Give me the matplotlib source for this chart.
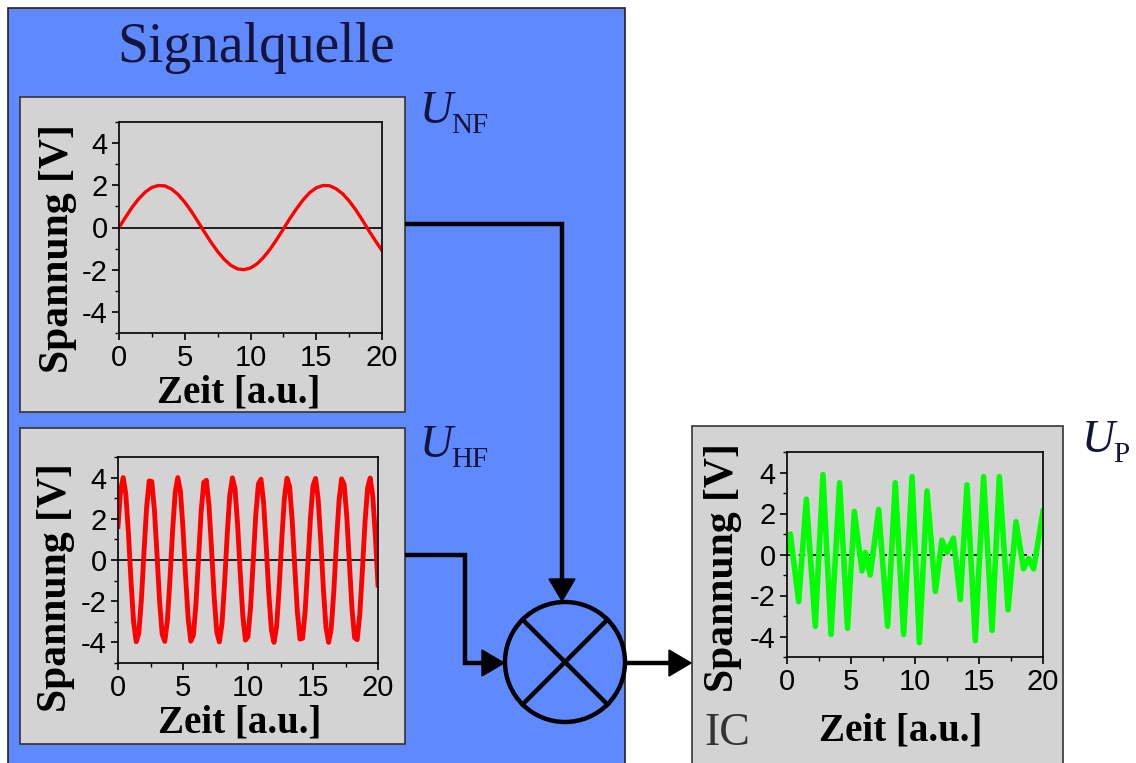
import matplotlib
matplotlib.use("Agg")
import numpy as np
import matplotlib.pyplot as plt
from matplotlib.patches import Rectangle, Circle, Polygon
from matplotlib.ticker import MultipleLocator

plt.rcParams["font.family"] = ["Liberation Sans", "DejaVu Sans"]
plt.rcParams["axes.unicode_minus"] = False

W, H = 1136, 763

# ── data ─────────────────────────────────────────────────────────────────────
# U_NF, sampled every 0.5 a.u.
nf_u = [0.00, 0.49, 0.96, 1.36, 1.68, 1.90, 1.99, 1.97, 1.82, 1.56, 1.20,
        0.77, 0.28, -0.22, -0.70, -1.14, -1.51, -1.79, -1.96, -2.00, -1.92,
        -1.72, -1.41, -1.02, -0.56, -0.07, 0.43, 0.89, 1.31, 1.65, 1.88,
        1.99, 1.98, 1.84, 1.60, 1.26, 0.84, 0.36, -0.15, -0.63, -1.09]

# U_HF, sampled every 0.2 a.u.
hf_u = [1.63, 3.40, 4.00, 3.21, 1.33, -1.02, -3.01, -3.97, -3.56, -1.92,
        0.38, 2.55, 3.84, 3.81, 2.46, 0.27, -2.02, -3.61, -3.95, -2.94,
        -0.91, 1.43, 3.28, 4.00, 3.34, 1.53, -0.81, -2.86, -3.94, -3.65,
        -2.11, 0.16, 2.38, 3.77, 3.87, 2.64, 0.49, -1.82, -3.51, -3.98,
        -3.09, -1.12, 1.22, 3.15, 3.99, 3.46, 1.73, -0.59, -2.71, -3.89,
        -3.73, -2.29, -0.06, 2.20, 3.69, 3.92, 2.80, 0.70, -1.62, -3.40,
        -4.00, -3.23, -1.33, 1.01, 3.01, 3.97, 3.56, 1.92, -0.37, -2.54,
        -3.84, -3.80, -2.47, -0.28, 2.01, 3.60, 3.96, 2.94, 0.92, -1.42,
        -3.28, -4.00, -3.35, -1.54, 0.80, 2.86, 3.94, 3.66, 2.12, -0.16,
        -2.37, -3.77, -3.87, -2.64, -0.49, 1.82, 3.50, 3.98, 3.09, 1.13,
        -1.22]

# U_P, turning points
p_t = [0.00, 0.26, 0.91, 1.51, 2.21, 2.81, 3.44, 4.11, 4.73, 5.26, 5.86,
       6.12, 6.50, 7.16, 7.86, 8.46, 9.11, 9.77, 10.34, 10.94, 11.59,
       12.10, 12.50, 13.00, 13.54, 14.06, 14.71, 15.36, 16.02, 16.59,
       17.27, 17.89, 18.48, 18.88, 19.27, 20.00]
p_u = [0.2, 1.0, -2.3, 2.7, -3.5, 3.9, -3.9, 3.5, -3.6, 2.1, -0.8,
       0.1, -1.0, 2.2, -3.5, 3.5, -3.9, 3.8, -4.3, 3.1, -1.8,
       0.7, 0.1, 0.8, -2.2, 3.4, -4.2, 3.8, -3.7, 3.8,
       -2.7, 1.6, -0.7, -0.2, -0.7, 2.1]

x_ticks = [0, 5, 10, 15, 20]
y_ticks = [-4, -2, 0, 2, 4]

BLUE = "#5f8aff"
GRAY = "#d3d3d3"
NAVY = "#14143c"
SERIF = "Liberation Serif"

fig = plt.figure(figsize=(W / 100, H / 100), dpi=100)

# ── background / block diagram in pixel coordinates ──────────────────────────
bg = fig.add_axes([0, 0, 1, 1])
bg.set_xlim(0, W); bg.set_ylim(H, 0); bg.axis("off")

bg.add_patch(Rectangle((8, 8), 617, 790, fc=BLUE, ec="#222222", lw=1.2))
for x0, y0, x1, y1 in [(20, 97, 405, 412), (20, 428, 405, 744),
                       (692, 426, 1063, 800)]:
    bg.add_patch(Rectangle((x0, y0), x1 - x0, y1 - y0, fc=GRAY,
                           ec="#333333", lw=1.2))

bg.text(256, 48, "Signalquelle", fontsize=40, family=SERIF, color=NAVY,
        ha="center", va="center")

LW = 3.2
def wire(xs, ys):
    bg.plot(xs, ys, color="k", lw=LW, solid_joinstyle="miter",
            solid_capstyle="butt")

def head(x, y, d):
    if d == "down":
        pts = [(x, y), (x - 13, y - 22), (x + 13, y - 22)]
    else:
        pts = [(x, y), (x - 22, y - 13), (x - 22, y + 13)]
    bg.add_patch(Polygon(pts, closed=True, fc="k", ec="k", lw=1))

wire([405, 562, 562], [224, 224, 582]); head(562, 601, "down")
wire([405, 465, 465, 484], [555, 555, 663, 663]); head(504, 663, "right")
wire([625, 672], [663, 663]); head(691, 663, "right")

cx, cy, r = 565, 662, 60
bg.add_patch(Circle((cx, cy), r, fill=False, ec="k", lw=LW))
d = r * 0.7071
bg.plot([cx - d, cx + d], [cy - d, cy + d], color="k", lw=LW)
bg.plot([cx - d, cx + d], [cy + d, cy - d], color="k", lw=LW)

# U labels
def ulabel(x, y, sub):
    bg.text(x, y, "U", fontsize=33, family=SERIF, style="italic",
            color=NAVY, ha="left", va="baseline")
    bg.text(x + 31, y + 10, sub, fontsize=21, family=SERIF, color=NAVY,
            ha="left", va="baseline")

ulabel(420, 123, "NF")
ulabel(420, 457, "HF")
ulabel(1082, 452, "P")
bg.text(704, 745, "IC", fontsize=33, family=SERIF, color="#333333",
        ha="left", va="baseline")


# ── signal panels ────────────────────────────────────────────────────────────
def panel(box, t, u, color, lw, zero_ls, ylab_xy, xlab_xy):
    x0, y0, x1, y1 = box
    ax = fig.add_axes([x0 / W, 1 - y1 / H, (x1 - x0) / W, (y1 - y0) / H])
    ax.set_facecolor(GRAY)
    ax.axhline(0, color="k", lw=1.2, ls=zero_ls, zorder=1)
    ax.plot(t, u, color=color, lw=lw, zorder=2)
    ax.set_xlim(0, 20); ax.set_ylim(-5, 5)
    ax.set_xticks(x_ticks); ax.set_yticks(y_ticks)
    ax.xaxis.set_minor_locator(MultipleLocator(2.5))
    ax.yaxis.set_minor_locator(MultipleLocator(1))
    ax.tick_params(which="both", direction="out", labelsize=21, pad=3)
    ax.tick_params(which="major", length=5, width=1.2)
    ax.tick_params(which="minor", length=3, width=1.0)
    for s in ax.spines.values():
        s.set_linewidth(1.2)
    ax.set_ylabel("Spannung [V]", fontsize=30, fontweight="bold",
                  family=SERIF)
    ax.set_xlabel("Zeit [a.u.]", fontsize=28, fontweight="bold",
                  family=SERIF)
    ax.yaxis.set_label_coords(*ylab_xy)
    ax.xaxis.set_label_coords(*xlab_xy)
    ax.yaxis.label.set_va("center")
    ax.xaxis.label.set_va("center")
    return ax

nf_t = np.linspace(0, 20, len(nf_u))
hf_t = np.linspace(0, 20, len(hf_u))

panel((119, 122, 382, 333), nf_t, nf_u, "#ff0000", 2.4, "-",
      (-0.232, 0.40), (0.456, -0.285))
panel((118, 457, 378, 663), hf_t, hf_u, "#ff0000", 3.5, "-",
      (-0.237, 0.364), (0.468, -0.29))
panel((787, 452, 1043, 657), p_t, p_u, "#00ff00", 4.0, (0, (4, 3)),
      (-0.249, 0.434), (0.443, -0.36))

fig.savefig("out.png", dpi=100)
